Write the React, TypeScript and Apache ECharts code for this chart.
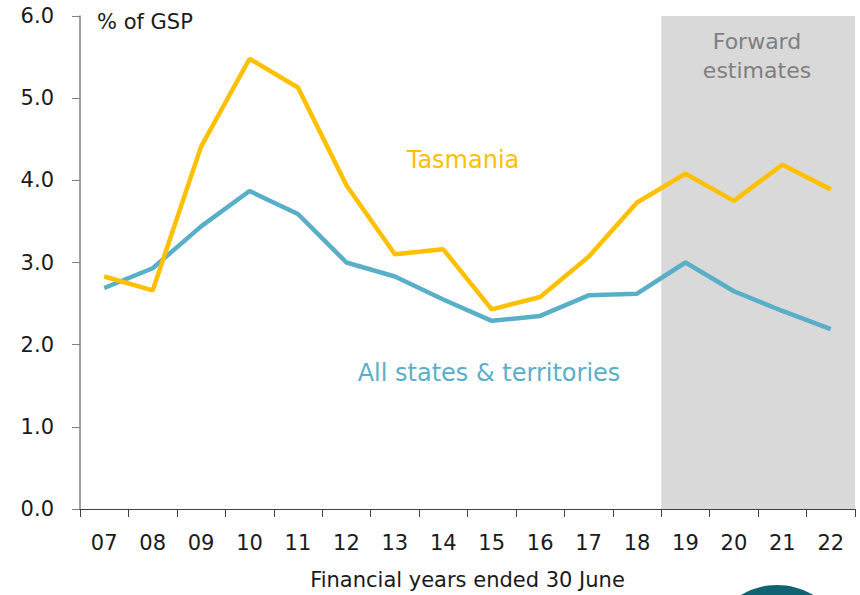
import React, { useEffect, useRef } from "react";
import * as echarts from "echarts";

const years = ["07", "08", "09", "10", "11", "12", "13", "14", "15", "16", "17", "18", "19", "20", "21", "22"];
const tasmania = [2.83, 2.66, 4.41, 5.48, 5.13, 3.94, 3.1, 3.16, 2.43, 2.58, 3.07, 3.73, 4.08, 3.75, 4.19, 3.89];
const allStates = [2.69, 2.93, 3.44, 3.87, 3.59, 3.0, 2.83, 2.55, 2.29, 2.35, 2.6, 2.62, 3.0, 2.65, 2.41, 2.19];
// Forward estimates start at year "19" (index 12) and run to the end
const forwardStartIndex = 12;

const FONT = "'DejaVu Sans', sans-serif";

export default function App() {
  const ref = useRef<HTMLDivElement>(null);
  useEffect(() => {
    if (!ref.current) return;
    const chart = echarts.init(ref.current, null, { renderer: "svg" });
    chart.setOption({
      animation: false,
      textStyle: { fontFamily: FONT },
      grid: { left: 80, right: 5, top: 16, bottom: 83 },
      xAxis: [
        {
          type: "category",
          data: years,
          boundaryGap: true,
          axisLine: { lineStyle: { color: "#404040", width: 1 } },
          axisTick: { show: true, length: 8, alignWithLabel: false, lineStyle: { color: "#404040" } },
          axisLabel: { fontSize: 21, color: "#1a1a1a", margin: 23, fontFamily: FONT, interval: 0 },
          name: "Financial years ended 30 June",
          nameLocation: "middle",
          nameGap: 60,
          nameTextStyle: { fontSize: 21, color: "#1a1a1a", fontFamily: FONT },
          z: 5,
        },
        {
          type: "value",
          min: 0,
          max: years.length,
          show: false,
        },
      ],
      yAxis: {
        type: "value",
        min: 0,
        max: 6,
        interval: 1,
        splitLine: { show: false },
        axisLine: { show: true, lineStyle: { color: "#808080", width: 1.5 } },
        axisTick: { show: true, length: 8, lineStyle: { color: "#808080" } },
        axisLabel: {
          fontSize: 21,
          color: "#1a1a1a",
          margin: 26,
          fontFamily: FONT,
          formatter: (v: number) => v.toFixed(1),
        },
      },
      series: [
        {
          type: "line",
          xAxisIndex: 1,
          data: [[forwardStartIndex, 0]],
          symbol: "none",
          lineStyle: { opacity: 0 },
          silent: true,
          z: 1,
          markArea: {
            silent: true,
            itemStyle: { color: "#d9d9d9" },
            data: [[{ xAxis: forwardStartIndex, yAxis: 0 }, { xAxis: years.length, yAxis: 6 }]],
          },
        },
        {
          name: "All states & territories",
          type: "line",
          data: allStates,
          symbol: "none",
          lineStyle: { color: "#5aafc8", width: 4.5 },
          z: 3,
        },
        {
          name: "Tasmania",
          type: "line",
          data: tasmania,
          symbol: "none",
          lineStyle: { color: "#ffc000", width: 4.5 },
          z: 4,
        },
      ],
      graphic: [
        {
          type: "text",
          left: 97,
          top: 11,
          style: { text: "% of GSP", font: `21px ${FONT}`, fill: "#1a1a1a" },
        },
        {
          type: "text",
          x: 757,
          y: 56,
          style: {
            text: "Forward\nestimates",
            font: `22px ${FONT}`,
            fill: "#7f7f7f",
            align: "center",
            verticalAlign: "middle",
            lineHeight: 29,
          },
          z: 10,
        },
        {
          type: "text",
          x: 463,
          y: 160,
          style: {
            text: "Tasmania",
            font: `24px ${FONT}`,
            fill: "#ffc000",
            align: "center",
            verticalAlign: "middle",
          },
          z: 10,
        },
        {
          type: "text",
          x: 489,
          y: 373,
          style: {
            text: "All states & territories",
            font: `24px ${FONT}`,
            fill: "#5aafc8",
            align: "center",
            verticalAlign: "middle",
          },
          z: 10,
        },
        {
          type: "circle",
          shape: { cx: 777, cy: 655, r: 70 },
          style: { fill: "#0f6373" },
          z: 10,
        },
      ],
    });
    return () => chart.dispose();
  }, []);
  return <div ref={ref} style={{ width: 860, height: 595, position: "absolute", left: 0, top: 0 }} />;
}
